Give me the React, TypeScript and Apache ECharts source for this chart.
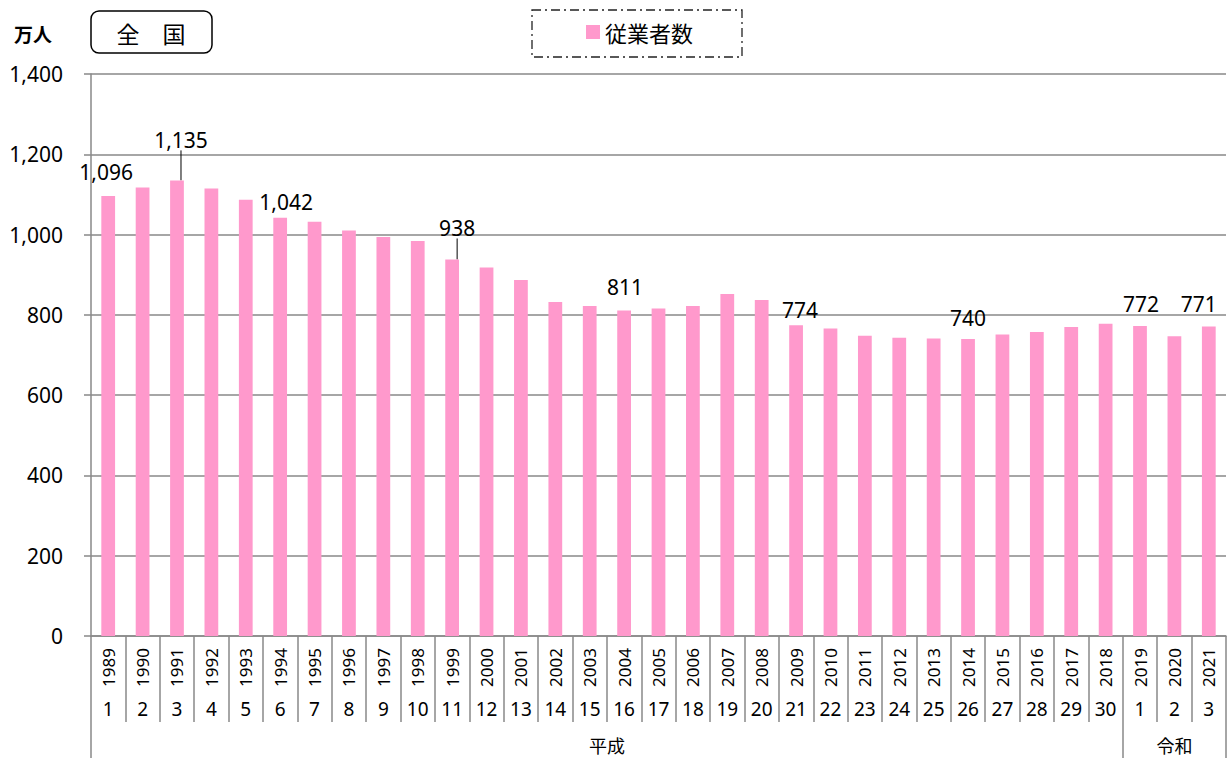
import React, { useEffect, useRef } from "react";
import * as echarts from "echarts";

const years = [
  "1989", "1990", "1991", "1992", "1993", "1994", "1995", "1996", "1997", "1998",
  "1999", "2000", "2001", "2002", "2003", "2004", "2005", "2006", "2007", "2008",
  "2009", "2010", "2011", "2012", "2013", "2014", "2015", "2016", "2017", "2018",
  "2019", "2020", "2021",
];
const eraNumbers = [
  "1", "2", "3", "4", "5", "6", "7", "8", "9", "10",
  "11", "12", "13", "14", "15", "16", "17", "18", "19", "20",
  "21", "22", "23", "24", "25", "26", "27", "28", "29", "30",
  "1", "2", "3",
];
const employees = [
  1096, 1117, 1135, 1115, 1087, 1042, 1032, 1010, 994, 984,
  938, 918, 887, 832, 822, 811, 816, 822, 852, 837,
  774, 766, 748, 743, 741, 740, 751, 757, 770, 778,
  772, 747, 771,
];
// era names: [name, first category index, count]
const eras: [string, number, number][] = [
  ["平成", 0, 30],
  ["令和", 30, 3],
];
const yTicks = { min: 0, max: 1400, interval: 200 };
// indices of labeled bars with label offsets [dx, dy] and leader line flag
const labeled: Record<number, [number, number, boolean]> = {
  0: [-2, -14, false],
  2: [4, -30, true],
  5: [6, -5, false],
  10: [5, -21, true],
  15: [1, -13, false],
  20: [4, -5, false],
  25: [0, -10, false],
  30: [1, -12, false],
  32: [-10, -12, false],
};

const FONT = "'Noto Sans', 'Noto Sans CJK JP', sans-serif";
const JFONT = "'Noto Sans CJK JP', 'Noto Sans', sans-serif";
const GRAY = "#898989";

export default function App() {
  const ref = useRef<HTMLDivElement>(null);
  useEffect(() => {
    if (!ref.current) return;
    const chart = echarts.init(ref.current, undefined, { renderer: "svg" });

    const n = years.length;
    const eraAxisData: string[] = new Array(2 * n + 1).fill("");
    const eraTickIdx = new Set<number>();
    eras.forEach(([name, start, count]) => {
      eraAxisData[start * 2 + count] = name;
      eraTickIdx.add(start * 2);
      eraTickIdx.add((start + count) * 2);
    });

    const data = employees.map((v, i) => {
      const l = labeled[i];
      if (!l) return { value: v };
      return {
        value: v,
        label: {
          show: true,
          position: "top",
          distance: 0,
          formatter: (p: any) => Number(p.value).toLocaleString("en-US"),
        },
        labelLine: { show: l[2] },
      };
    });

    chart.setOption({
      animation: false,
      grid: { left: 91, right: 6, top: 74, bottom: 122 },
      legend: {
        data: ["従業者数"],
        left: 586,
        top: 21,
        padding: 0,
        icon: "rect",
        itemWidth: 14,
        itemHeight: 14,
        textStyle: { fontSize: 22, fontFamily: JFONT, color: "#000" },
      },
      graphic: [
        {
          type: "rect",
          shape: { x: 532, y: 10, width: 210, height: 47 },
          style: { fill: "none", stroke: "#222", lineWidth: 1.3, lineDash: [9, 4, 2, 4] },
          z: 0,
        },
        {
          type: "rect",
          shape: { x: 91, y: 11, width: 121, height: 42, r: 8 },
          style: { fill: "#fff", stroke: "#000", lineWidth: 1.5 },
        },
        {
          type: "text",
          x: 151,
          y: 33,
          style: {
            text: "全　国",
            fontSize: 23,
            fontFamily: JFONT,
            fill: "#000",
            align: "center",
            verticalAlign: "middle",
          },
        },
        {
          type: "text",
          x: 14,
          y: 33,
          style: {
            text: "万人",
            fontSize: 19,
            fontWeight: "bold",
            fontFamily: JFONT,
            fill: "#000",
            align: "left",
            verticalAlign: "middle",
          },
        },
      ],
      xAxis: [
        {
          type: "category",
          data: years,
          position: "bottom",
          axisLine: { show: true, lineStyle: { color: GRAY, width: 1.5 } },
          axisTick: { show: true, interval: 0, length: 86, lineStyle: { color: GRAY, width: 1.5 } },
          axisLabel: {
            interval: 0,
            rotate: 90,
            margin: 12,
            fontSize: 17,
            fontFamily: FONT,
            color: "#000",
          },
        },
        {
          type: "category",
          data: eraNumbers,
          position: "bottom",
          axisLine: { show: false },
          axisTick: { show: false },
          axisLabel: {
            interval: 0,
            margin: 63,
            fontSize: 19,
            fontFamily: FONT,
            color: "#000",
          },
        },
        {
          type: "category",
          data: eraAxisData,
          boundaryGap: false,
          position: "bottom",
          offset: 86,
          axisLine: { show: false },
          axisTick: {
            show: true,
            length: 36,
            interval: (idx: number) => eraTickIdx.has(idx),
            lineStyle: { color: GRAY, width: 1.5 },
          },
          axisLabel: {
            interval: 0,
            margin: 14,
            fontSize: 18,
            fontFamily: JFONT,
            color: "#000",
          },
        },
      ],
      yAxis: {
        type: "value",
        min: yTicks.min,
        max: yTicks.max,
        interval: yTicks.interval,
        axisLine: { show: true, lineStyle: { color: GRAY, width: 1.5 } },
        axisTick: { show: true, length: 7, lineStyle: { color: GRAY, width: 1.5 } },
        splitLine: { show: true, lineStyle: { color: GRAY, width: 1.5 } },
        axisLabel: {
          margin: 28,
          fontSize: 21,
          fontFamily: FONT,
          color: "#000",
          formatter: (v: number) => v.toLocaleString("en-US"),
        },
      },
      series: [
        {
          name: "従業者数",
          type: "bar",
          xAxisIndex: 0,
          data,
          barWidth: "40%",
          itemStyle: { color: "#FF99CC" },
          label: {
            show: false,
            fontSize: 21,
            fontFamily: FONT,
            color: "#000",
          },
          labelLine: { show: false, lineStyle: { color: "#000", width: 1 } },
          labelLayout: (params: any) => {
            const l = labeled[params.dataIndex];
            if (!l) return {};
            return { dx: l[0], dy: l[1] };
          },
        },
      ],
    });
    return () => chart.dispose();
  }, []);
  return (
    <div
      ref={ref}
      style={{ position: "fixed", left: 0, top: 0, width: 1232, height: 758, background: "#fff" }}
    />
  );
}
